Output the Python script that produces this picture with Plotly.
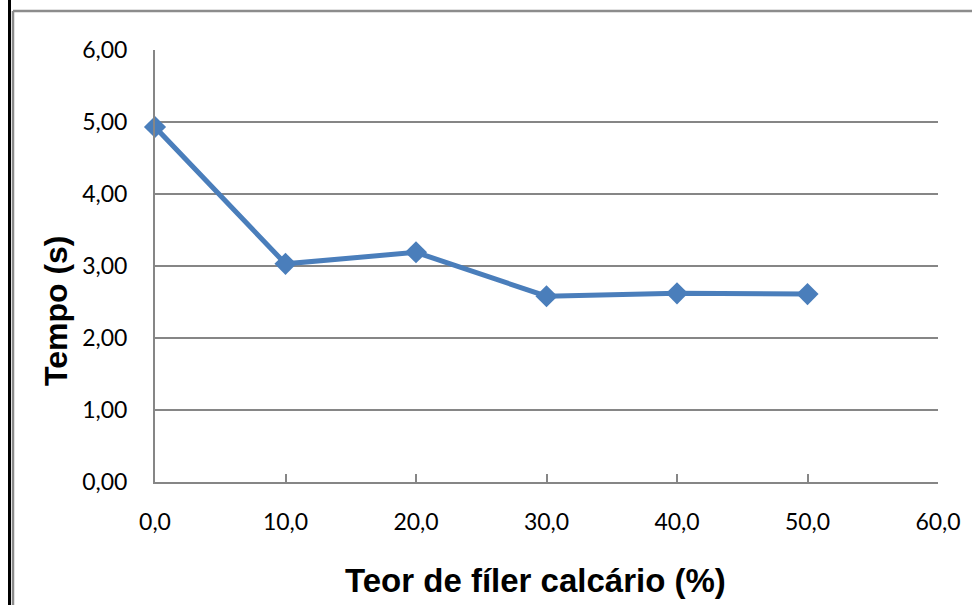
import plotly.graph_objects as go

teor = [0, 10, 20, 30, 40, 50]
tempo = [4.93, 3.03, 3.19, 2.58, 2.62, 2.61]
x_ticks = [0, 10, 20, 30, 40, 50, 60]
x_tick_labels = ["0,0", "10,0", "20,0", "30,0", "40,0", "50,0", "60,0"]
y_ticks = [0, 1, 2, 3, 4, 5, 6]
y_tick_labels = ["0,00", "1,00", "2,00", "3,00", "4,00", "5,00", "6,00"]

W, H = 972, 605
L, R, T, B = 155, 34, 50, 123
pw, ph = W - L - R, H - T - B

def px(p):
    return (p - L) / pw

def py(p):
    return 1 - (p - T) / ph

fig = go.Figure()
fig.add_trace(go.Scatter(
    x=teor, y=tempo, mode="lines+markers",
    line=dict(color="#4a7ebb", width=5),
    marker=dict(symbol="diamond", size=17, color="#4a7ebb"),
    cliponaxis=False,
))

grid = "#868686"
tick_font = dict(family="Lato", size=23, color="black")
fig.update_layout(
    width=W, height=H,
    margin=dict(l=L, r=R, t=T, b=B),
    paper_bgcolor="white", plot_bgcolor="white",
    showlegend=False,
    xaxis=dict(
        range=[0, 60], tickvals=x_ticks, ticktext=x_tick_labels,
        showgrid=False, zeroline=False,
        showline=True, linecolor=grid, linewidth=2,
        ticks="inside", ticklen=8, tickwidth=2, tickcolor=grid,
        ticklabelstandoff=18,
        tickfont=tick_font,
    ),
    yaxis=dict(
        range=[0, 6], tickvals=y_ticks, ticktext=y_tick_labels,
        showgrid=True, gridcolor=grid, gridwidth=2,
        zeroline=False,
        showline=True, linecolor=grid, linewidth=2,
        ticks="", ticklabelstandoff=21,
        tickfont=tick_font,
    ),
)

fig.add_annotation(
    text="<b>Teor de fíler calcário (%)</b>", xref="paper", yref="paper",
    x=px(535), y=py(580), showarrow=False, xanchor="center", yanchor="middle",
    font=dict(family="Liberation Sans", size=33, color="black"),
)
fig.add_annotation(
    text="<b>Tempo (s)</b>", xref="paper", yref="paper",
    x=px(56), y=py(310), showarrow=False, textangle=-90,
    xanchor="center", yanchor="middle",
    font=dict(family="Liberation Sans", size=32, color="black"),
)

# outer frame lines
fig.add_shape(type="line", xref="paper", yref="paper",
              x0=px(9.5), x1=px(9.5), y0=py(0), y1=py(H),
              line=dict(color="black", width=3))
fig.add_shape(type="line", xref="paper", yref="paper",
              x0=px(13), x1=px(13), y0=py(11), y1=py(H),
              line=dict(color="#8c8c8c", width=2.5))
fig.add_shape(type="line", xref="paper", yref="paper",
              x0=px(13), x1=px(W), y0=py(11), y1=py(11),
              line=dict(color="#8c8c8c", width=2.5))

fig.write_html("out.html")
